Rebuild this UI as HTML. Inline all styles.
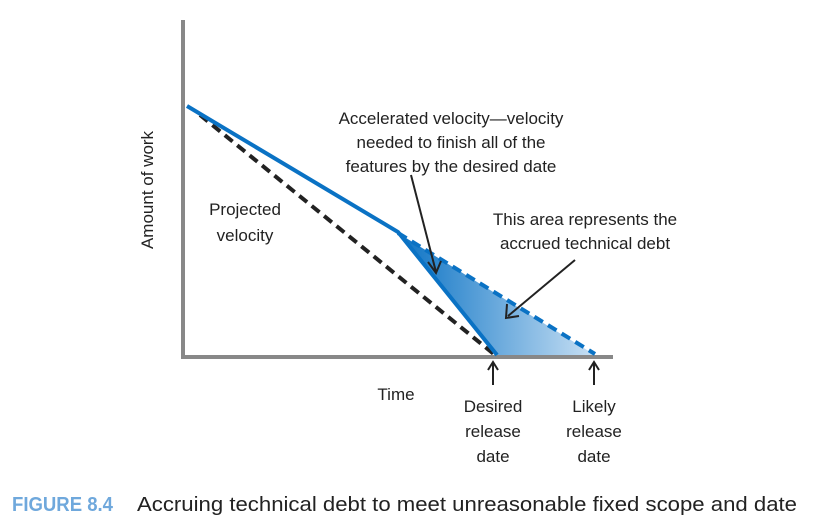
<!DOCTYPE html>
<html><head><style>body{margin:0;background:#fff}</style></head><body>
<svg width="821" height="526" viewBox="0 0 821 526" xmlns="http://www.w3.org/2000/svg" font-family="Liberation Sans, sans-serif">
<defs><linearGradient id="g" x1="0" x2="1" y1="0" y2="0"><stop offset="0" stop-color="#0a72c4"/><stop offset="1" stop-color="#c8e0f4"/></linearGradient></defs>
<line x1="183" y1="20" x2="183" y2="359" stroke="#888" stroke-width="4"/>
<line x1="181" y1="357" x2="613" y2="357" stroke="#888" stroke-width="4"/>
<polygon points="398,233 497,355 595,355" fill="url(#g)"/>
<line x1="200" y1="115" x2="495" y2="355" stroke="#222" stroke-width="4" stroke-dasharray="10,6"/>
<polyline points="187,106 398,232 497,355" fill="none" stroke="#0a72c4" stroke-width="4"/>
<line x1="398" y1="233" x2="595" y2="354" stroke="#0a72c4" stroke-width="4" stroke-dasharray="10,6"/>
<g stroke="#222" stroke-width="2" fill="none">
<line x1="411" y1="175" x2="436" y2="272"/><polyline points="428,262 436,273 441,261"/>
<line x1="575" y1="260" x2="508" y2="316"/><polyline points="507,304 506,318 519,316"/>
<line x1="493" y1="385" x2="493" y2="362"/><polyline points="488,370 493,362 498,370"/>
<line x1="594" y1="385" x2="594" y2="362"/><polyline points="589,370 594,362 599,370"/>
</g>
<g font-size="17" fill="#222" text-anchor="middle">
<text x="451" y="124">Accelerated velocity—velocity</text>
<text x="451" y="148">needed to finish all of the</text>
<text x="451" y="172">features by the desired date</text>
<text x="585" y="225">This area represents the</text>
<text x="585" y="249">accrued technical debt</text>
<text x="245" y="215">Projected</text>
<text x="245" y="241">velocity</text>
<text x="396" y="400">Time</text>
<text x="493" y="412">Desired</text><text x="493" y="437">release</text><text x="493" y="462">date</text>
<text x="594" y="412">Likely</text><text x="594" y="437">release</text><text x="594" y="462">date</text>
<text transform="translate(153,190) rotate(-90)">Amount of work</text>
</g>
<text x="12" y="511" font-size="20" font-weight="bold" fill="#6fa8dc" textLength="101" lengthAdjust="spacingAndGlyphs">FIGURE 8.4</text>
<text x="137" y="511" font-size="20" fill="#222" textLength="660" lengthAdjust="spacingAndGlyphs">Accruing technical debt to meet unreasonable fixed scope and date</text>
</svg>
</body></html>
